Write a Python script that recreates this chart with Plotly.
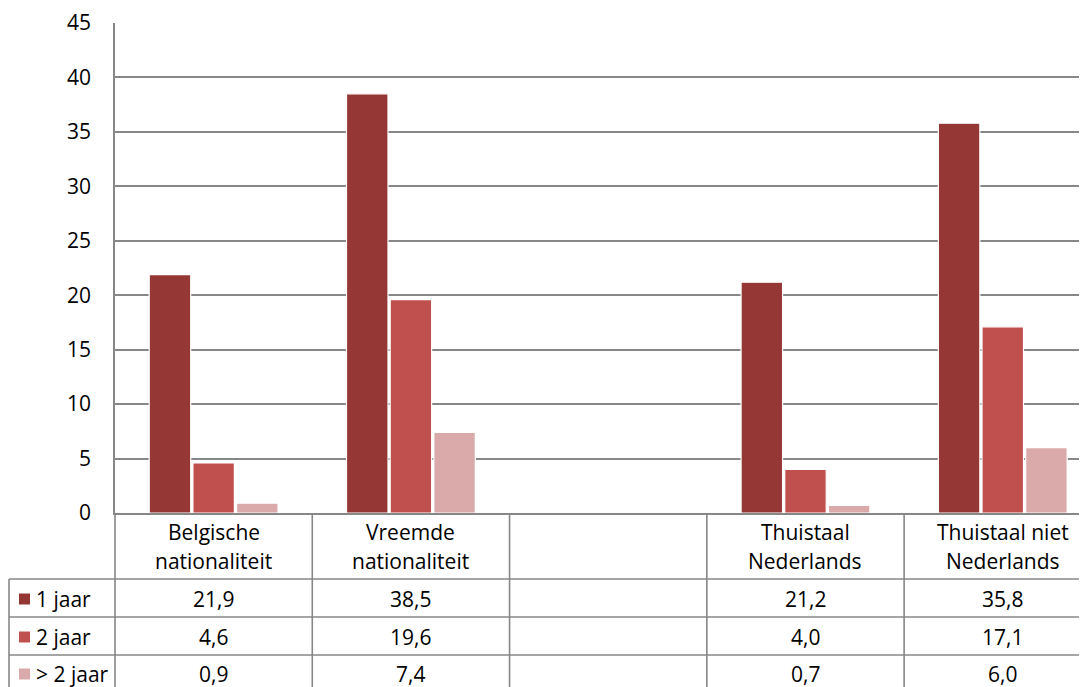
import plotly.graph_objects as go

categories = ["Belgische nationaliteit", "Vreemde nationaliteit", "", "Thuistaal Nederlands", "Thuistaal niet Nederlands"]
cat_lines = [["Belgische", "nationaliteit"], ["Vreemde", "nationaliteit"], ["", ""], ["Thuistaal", "Nederlands"], ["Thuistaal niet", "Nederlands"]]
series_names = ["1 jaar", "2 jaar", "> 2 jaar"]
jaar1 = [21.9, 38.5, None, 21.2, 35.8]
jaar2 = [4.6, 19.6, None, 4.0, 17.1]
jaar3 = [0.9, 7.4, None, 0.7, 6.0]
colors = ["#953735", "#C0504D", "#DAAAAA"]
y_ticks = [0, 5, 10, 15, 20, 25, 30, 35, 40, 45]

OFF = 8  # page body margin
W, H = 1087 - OFF, 687 - OFF
ML, MR, MT, MB = 115 - OFF, 0, 23 - OFF, 687 - 513
PW, PH = W - ML - MR, H - MT - MB
x_range = [-0.5, 4.427]
FONT = "Open Sans"
FS = 21
GRID = "#878787"

def px_x(i):
    # reference-pixel x of data coordinate i
    return 115 + (i - x_range[0]) / (x_range[1] - x_range[0]) * PW

def paper_x(px):
    return (px - 115) / PW

def paper_y(py):
    return (513 - py) / PH

xs = list(range(len(categories)))
fig = go.Figure()
for name, vals, c in zip(series_names, [jaar1, jaar2, jaar3], colors):
    fig.add_trace(go.Bar(x=xs, y=vals, name=name, marker=dict(color=c, line=dict(color="white", width=1.2))))

shapes = []
annots = []
line = dict(color=GRID, width=1.6)
row_tops = [579, 617, 655]
row_h = 38
left_px = 9
for ry in row_tops:
    shapes.append(dict(type="line", xref="paper", yref="paper", x0=paper_x(left_px), x1=1, y0=paper_y(ry), y1=paper_y(ry), line=line))
shapes.append(dict(type="line", xref="paper", yref="paper", x0=paper_x(left_px), x1=paper_x(left_px), y0=paper_y(579), y1=paper_y(700), line=line))
shapes.append(dict(type="line", xref="paper", yref="paper", x0=0, x1=0, y0=0, y1=paper_y(700), line=line))
for i in range(1, len(categories)):
    bx = paper_x(px_x(i - 0.5))
    shapes.append(dict(type="line", xref="paper", yref="paper", x0=bx, x1=bx, y0=0, y1=paper_y(700), line=line))

for i, lines in enumerate(cat_lines):
    cx = paper_x(px_x(i))
    for k, txt in enumerate(lines):
        if txt:
            annots.append(dict(xref="paper", yref="paper", x=cx, y=paper_y(532 + 29 * k), text=txt, showarrow=False,
                               xanchor="center", yanchor="middle", font=dict(family=FONT, size=FS, color="#000")))
for r, (name, vals, c) in enumerate(zip(series_names, [jaar1, jaar2, jaar3], colors)):
    cy = row_tops[r] + row_h / 2 + (1 if r < 2 else 0)
    shapes.append(dict(type="rect", xref="paper", yref="paper", x0=paper_x(19), x1=paper_x(30), y0=paper_y(cy - 5.5), y1=paper_y(cy + 5.5),
                       fillcolor=c, line=dict(width=0)))
    annots.append(dict(xref="paper", yref="paper", x=paper_x(34), y=paper_y(cy), text=name, showarrow=False,
                       xanchor="left", yanchor="middle", font=dict(family=FONT, size=FS, color="#000")))
    for i, v in enumerate(vals):
        if v is None:
            continue
        annots.append(dict(xref="paper", yref="paper", x=paper_x(px_x(i)), y=paper_y(cy), text=f"{v:.1f}".replace(".", ","),
                           showarrow=False, xanchor="center", yanchor="middle", font=dict(family=FONT, size=FS, color="#000")))

fig.update_layout(
    width=W, height=H, margin=dict(l=ML, r=MR, t=MT, b=MB),
    paper_bgcolor="white", plot_bgcolor="white",
    barmode="group", bargap=0.336, bargroupgap=0.05,
    showlegend=False, shapes=shapes, annotations=annots,
    font=dict(family=FONT, size=FS, color="#000"),
)
fig.update_xaxes(range=x_range, showticklabels=False, showgrid=False, zeroline=False,
                 showline=True, linecolor=GRID, linewidth=1.6)
fig.update_yaxes(range=[0, 45], tickvals=y_ticks, showgrid=True, gridcolor=GRID, gridwidth=1.6,
                 zeroline=False, showline=True, linecolor=GRID, linewidth=1.6, ticks="",
                 ticklabelstandoff=18, tickfont=dict(family=FONT, size=FS, color="#000"))
fig.write_html("out.html")
